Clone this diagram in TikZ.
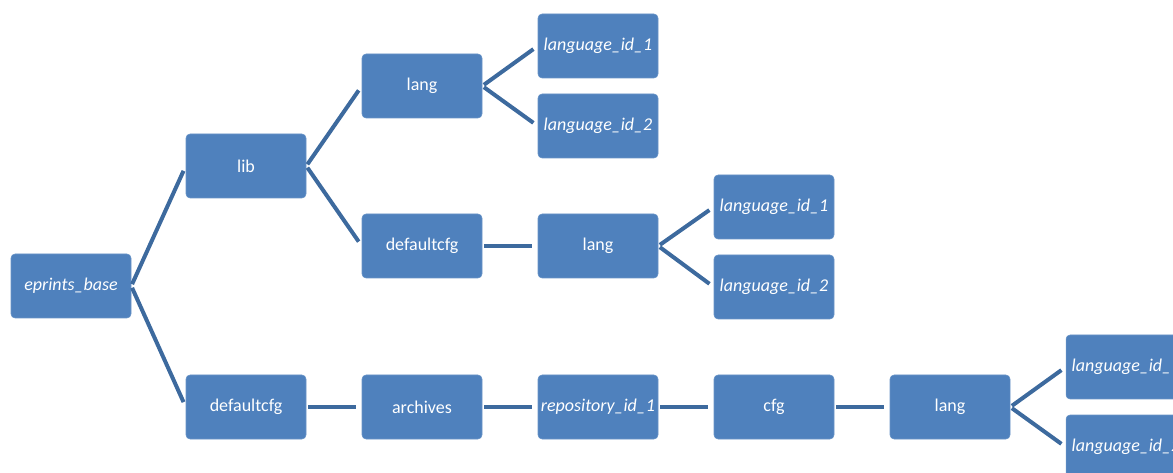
\documentclass[tikz,border=0pt]{standalone}
\usepackage{fontspec}
\setmainfont{Carlito}
\usepackage{tikz}

\definecolor{boxblue}{HTML}{4F81BD}
\definecolor{lineblue}{HTML}{3D6A9E}

\begin{document}
\begin{tikzpicture}[
    x=0.75pt, y=-0.75pt,
    every node/.style={rectangle, rounded corners=3pt, fill=boxblue, draw=boxblue!85!white,
        text=white, minimum width=90pt, minimum height=48pt, inner sep=0pt, font=\fontsize{13.5}{15}\selectfont},
    link/.style={draw=lineblue, line width=3pt, shorten <=1.5pt, shorten >=4pt}
]
    \clip (0,0) rectangle (1173,473);
    \useasboundingbox (0,0) rectangle (1173,473);
    \node (n0) at (71, 286) {\textit{eprints\_base}};
    \node (n1) at (246, 166) {lib};
    \node (n2) at (246, 407) {defaultcfg};
    \node (n3) at (422, 86) {lang};
    \node (n4) at (422, 246) {defaultcfg};
    \node (n5) at (422, 407) {archives};
    \node (n6) at (598, 46) {\textit{language\_id\_1}};
    \node (n7) at (598, 126) {\textit{language\_id\_2}};
    \node (n8) at (598, 246) {lang};
    \node (n9) at (598, 407) {\textit{repository\_id\_1}};
    \node (n10) at (774, 207) {\textit{language\_id\_1}};
    \node (n11) at (774, 287) {\textit{language\_id\_2}};
    \node (n12) at (774, 407) {cfg};
    \node (n13) at (950, 407) {lang};
    \node (n14) at (1126, 367) {\textit{language\_id\_1}};
    \node (n15) at (1126, 447) {\textit{language\_id\_2}};
    \draw[link] (n0.east) -- (n1.west);
    \draw[link] (n0.east) -- (n2.west);
    \draw[link] (n1.east) -- (n3.west);
    \draw[link] (n1.east) -- (n4.west);
    \draw[link] (n3.east) -- (n6.west);
    \draw[link] (n3.east) -- (n7.west);
    \draw[link] (n4.east) -- (n8.west);
    \draw[link] (n8.east) -- (n10.west);
    \draw[link] (n8.east) -- (n11.west);
    \draw[link] (n2.east) -- (n5.west);
    \draw[link] (n5.east) -- (n9.west);
    \draw[link] (n9.east) -- (n12.west);
    \draw[link] (n12.east) -- (n13.west);
    \draw[link] (n13.east) -- (n14.west);
    \draw[link] (n13.east) -- (n15.west);
\end{tikzpicture}
\end{document}
